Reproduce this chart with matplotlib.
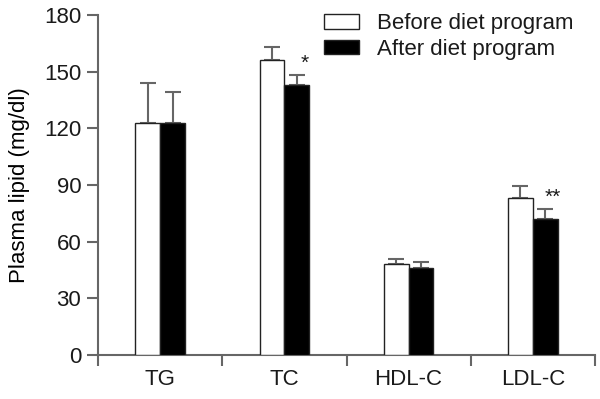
import numpy as np
import matplotlib
matplotlib.use('Agg')
import matplotlib.pyplot as plt

categories = ['TG', 'TC', 'HDL-C', 'LDL-C']
before = [123, 156, 48, 83]
before_err = [21, 7, 3, 6.5]
after = [123, 143, 46, 72]
after_err = [16, 5.5, 3, 5.5]
marks = ['', '*', '', '**']

plt.rcParams['font.family'] = ['Liberation Sans', 'DejaVu Sans']
plt.rcParams['font.size'] = 16
plt.rcParams['text.color'] = '#1a1a1a'
plt.rcParams['xtick.labelcolor'] = '#1a1a1a'
plt.rcParams['ytick.labelcolor'] = '#1a1a1a'

fig = plt.figure(figsize=(6, 3.99), dpi=100)
ax = fig.add_axes([98/600, 1-355/399, 497/600, 340/399])

x = np.arange(len(categories)) + 0.5
w = 0.2
gray = '#666666'
ax.bar(x - w/2, before, w, color='white', edgecolor='#222222', linewidth=1,
       label='Before diet program', zorder=3)
ax.bar(x + w/2, after, w, color='black', edgecolor='#222222', linewidth=1,
       label='After diet program', zorder=3)
ax.errorbar(x - w/2, before, yerr=[np.zeros(4), before_err], fmt='none',
            ecolor=gray, elinewidth=1.5, capsize=6, capthick=1.5, zorder=2)
ax.errorbar(x + w/2, after, yerr=[np.zeros(4), after_err], fmt='none',
            ecolor=gray, elinewidth=1.5, capsize=6, capthick=1.5, zorder=2)

for xi, a, e, m in zip(x, after, after_err, marks):
    if m:
        ax.text(xi + w/2 + 0.06, a + e + 1, m, ha='center', va='bottom',
                fontsize=15)

ax.set_xlim(0, 4)
ax.set_ylim(0, 180)
ax.set_yticks(range(0, 181, 30))
ax.set_xticks(range(0, 5))
ax.set_xticklabels([])
ax.set_xticks(x, minor=True)
ax.set_xticklabels(categories, minor=True)
ax.tick_params(axis='x', which='minor', length=0, pad=10)
ax.tick_params(axis='both', which='major', length=8, width=1.5, color=gray)
ax.tick_params(axis='y', pad=4)
ax.set_ylabel('Plasma lipid (mg/dl)', labelpad=10)

for s in ['top', 'right']:
    ax.spines[s].set_visible(False)
for s in ['left', 'bottom']:
    ax.spines[s].set_color(gray)
    ax.spines[s].set_linewidth(1.5)

ax.legend(loc='upper left', bbox_to_anchor=(311/600, 1.0),
          bbox_transform=fig.transFigure, frameon=False,
          handlelength=1.55, handleheight=0.65, handletextpad=0.8,
          labelspacing=0.2, borderaxespad=0.2, fontsize=16)

plt.savefig('out.png')
plt.close()
